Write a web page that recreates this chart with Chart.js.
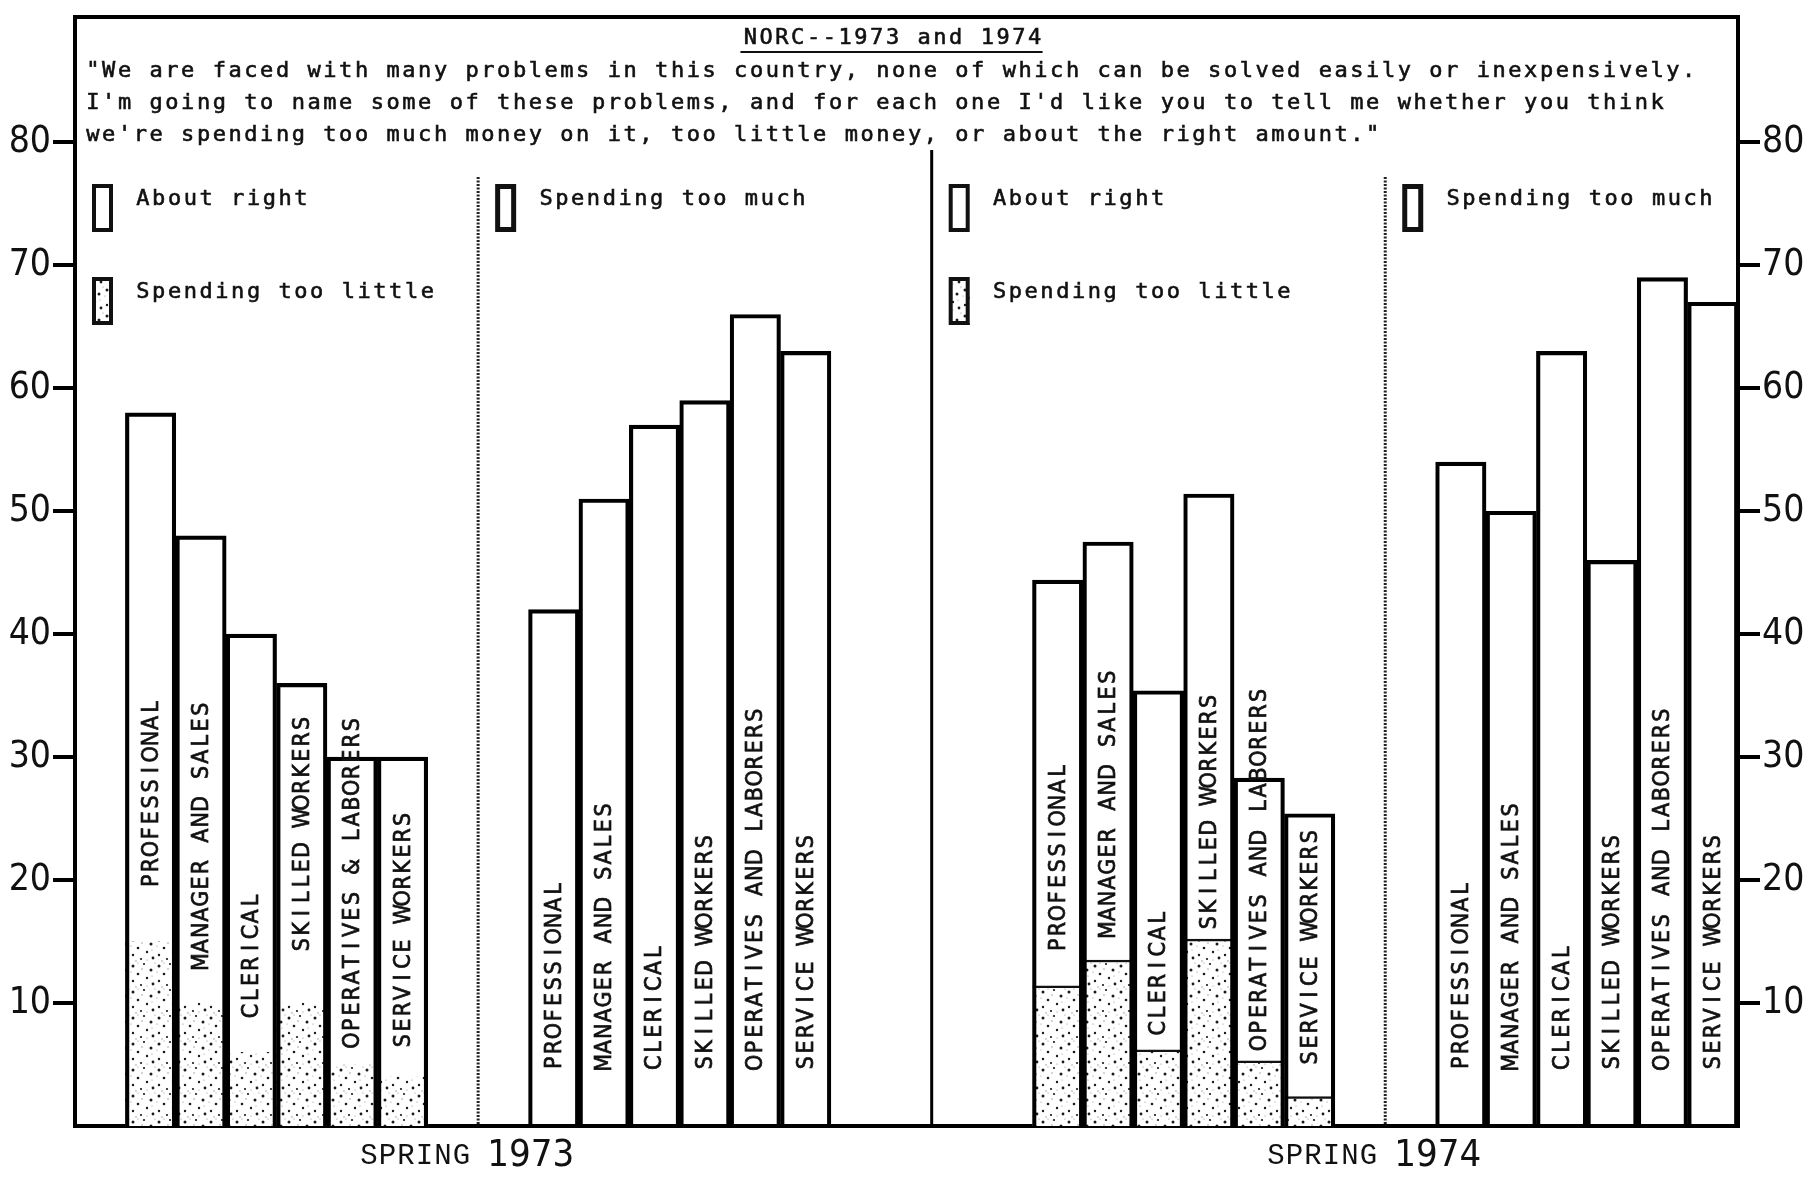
<!DOCTYPE html>
<html>
<head>
<meta charset="utf-8">
<script src="https://cdn.jsdelivr.net/npm/chart.js@4.4.1/dist/chart.umd.min.js"></script>
<style>
  html, body { margin: 0; padding: 0; background: #fff; }
  canvas { display: block; }
</style>
</head>
<body>
<canvas id="chart" width="1805" height="1177" style="width:1805px;height:1177px"></canvas>
<script>
// Occupation groups written inside the bars
const occupations1973AboutRight = ['PROFESSIONAL', 'MANAGER AND SALES', 'CLERICAL', 'SKILLED WORKERS', 'OPERATIVES & LABORERS', 'SERVICE WORKERS'];
const occupations = ['PROFESSIONAL', 'MANAGER AND SALES', 'CLERICAL', 'SKILLED WORKERS', 'OPERATIVES AND LABORERS', 'SERVICE WORKERS'];

// Percent of respondents, spring 1973
const aboutRight1973 = [58, 48, 40, 36, 30, 30];
const tooLittle1973 = [15, 10, 6, 10, 5, 4];
const tooMuch1973 = [42, 51, 57, 59, 66, 63];

// Percent of respondents, spring 1974
const aboutRight1974 = [44.4, 47.5, 35.4, 51.4, 28.3, 25.4];
const tooLittle1974 = [11.4, 13.5, 6.2, 15.2, 5.3, 2.4];
const tooMuch1974 = [54, 50, 63, 46, 69, 67];

// Axis ticks (both sides)
const yTickValues = [10, 20, 30, 40, 50, 60, 70, 80];

// Texts
const titleText = 'NORC--1973 and 1974';
const questionLines = [
  '"We are faced with many problems in this country, none of which can be solved easily or inexpensively.',
  "I'm going to name some of these problems, and for each one I'd like you to tell me whether you think",
  "we're spending too much money on it, too little money, or about the right amount.\""
];
const seriesNames = { aboutRight: 'About right', tooLittle: 'Spending too little', tooMuch: 'Spending too much' };
const seasonLabels = [['SPRING', '1973'], ['SPRING', '1974']];

// ---- layout of the category slots -------------------------------------
// empty slots ahead of each panel; the panel separator sits mid-gap
const panelGapSlots = [1, 2, 4, 2];
const panels = [
  { names: occupations1973AboutRight, kind: 'aboutRight', values: aboutRight1973, little: tooLittle1973, legend: ['aboutRight', 'tooLittle'] },
  { names: occupations, kind: 'tooMuch', values: tooMuch1973, legend: ['tooMuch'] },
  { names: occupations, kind: 'aboutRight', values: aboutRight1974, little: tooLittle1974, legend: ['aboutRight', 'tooLittle'] },
  { names: occupations, kind: 'tooMuch', values: tooMuch1974, legend: ['tooMuch'] }
];
// where the rotated names start inside each bar (axis units)
const nameBase = [
  [19.3, 12.7, 8.7, 14.1, 6.3, 6.3],
  [4.5, 4.5, 4.5, 4.5, 4.5, 4.5],
  [14.1, 15.3, 7.3, 15.9, 6.1, 4.9],
  [4.5, 4.5, 4.5, 4.5, 4.5, 4.5]
];

const slotLabels = [], aboutData = [], muchData = [], littleData = [];
const panelSlots = [], separators = [];
panels.forEach((p, i) => {
  for (let g = 0; g < panelGapSlots[i]; g++) {
    slotLabels.push(''); aboutData.push(null); muchData.push(null); littleData.push(null);
  }
  if (i > 0) separators.push(slotLabels.length - panelGapSlots[i] / 2 - 0.5);
  const first = slotLabels.length;
  p.names.forEach((n, k) => {
    slotLabels.push(n);
    aboutData.push(p.kind === 'aboutRight' ? p.values[k] : null);
    muchData.push(p.kind === 'tooMuch' ? p.values[k] : null);
    littleData.push(p.little ? p.little[k] : null);
  });
  panelSlots.push(first);
});

// ---- stipple fill for "spending too little" ------------------------------
const canvas = document.getElementById('chart');
const mainCtx = canvas.getContext('2d');
function makeStipple() {
  const t = document.createElement('canvas');
  t.width = 26; t.height = 26;
  const c = t.getContext('2d');
  c.fillStyle = '#fff'; c.fillRect(0, 0, 26, 26);
  const dots = [[3,4,1.5],[14,2,1.1],[21,8,1.5],[8,12,1.3],[17,16,1.2],[3,19,1.2],[23,22,1.4],[11,23,1.1],[12,7,0.7],[6,25,0.7],[22,14,0.6],[25,1,0.6],[1,10,0.6],[17,24,0.6],[8,1,0.6]];
  dots.forEach(([dx, dy, r]) => {
    c.fillStyle = r > 0.9 ? '#1a1a1a' : '#8a8a8a';
    c.beginPath(); c.arc(dx, dy, r, 0, Math.PI * 2); c.fill();
  });
  return mainCtx.createPattern(t, 'repeat');
}
const stipple = makeStipple();

// ---- fonts -----------------------------------------------------------------
const typewriter = '"DejaVu Sans Mono", "Liberation Mono", monospace';
const narrow = '"Liberation Sans Narrow", "DejaVu Sans Condensed", "DejaVu Sans", sans-serif';
const barFont = '"DejaVu Sans Condensed", "DejaVu Sans", sans-serif';

// fixed-pitch text, optionally thickened a little with a stroke
function monoText(ctx, text, x, y, pitch, weight) {
  ctx.textAlign = 'center';
  for (let i = 0; i < text.length; i++) {
    const cx = x + i * pitch + pitch / 2;
    ctx.fillText(text[i], cx, y);
    if (weight) { ctx.lineWidth = weight; ctx.strokeText(text[i], cx, y); }
  }
}

const decorations = {
  id: 'decorations',
  afterDraw(chart) {
    const { ctx, chartArea: a, scales: { x, y } } = chart;
    const pitch = 15.8;
    ctx.save();
    ctx.fillStyle = '#111';
    ctx.strokeStyle = '#000';

    // top edge of the frame
    ctx.lineWidth = 4;
    ctx.beginPath(); ctx.moveTo(a.left - 2, a.top); ctx.lineTo(a.right + 2, a.top); ctx.stroke();

    // panel separators: dotted, solid, dotted
    const sepX = separators.map(v => x.getPixelForValue(v));
    sepX.forEach((sx, i) => {
      ctx.beginPath();
      if (i === 1) { ctx.setLineDash([]); ctx.lineWidth = 3; ctx.moveTo(sx, a.top + 133); }
      else { ctx.setLineDash([2, 1.5]); ctx.lineWidth = 3; ctx.moveTo(sx, a.top + 160); }
      ctx.lineTo(sx, a.bottom);
      ctx.strokeStyle = i === 1 ? '#000' : '#222';
      ctx.stroke();
    });
    ctx.setLineDash([]);
    ctx.strokeStyle = '#111';

    // heading and question
    ctx.font = '22px ' + typewriter;
    ctx.textBaseline = 'middle';
    const titleW = titleText.length * pitch;
    const titleX = (a.left + a.right) / 2 - 14 - titleW / 2;
    monoText(ctx, titleText, titleX, a.top + 21, pitch, 0.6);
    ctx.lineWidth = 2;
    ctx.beginPath(); ctx.moveTo(titleX - 2, a.top + 35); ctx.lineTo(titleX + titleW, a.top + 35); ctx.stroke();
    questionLines.forEach((line, i) => monoText(ctx, line, a.left + 10, a.top + 54 + i * 32, pitch, 0.6));

    // per-panel keys
    const panelLeft = [a.left, ...sepX];
    panels.forEach((p, i) => {
      p.legend.forEach((key, r) => {
        const cy = a.top + 182 + r * 93;
        const bx = panelLeft[i] + 17, bw = 21, bh = 48, by = cy - 15;
        ctx.fillStyle = key === 'tooLittle' ? stipple : '#fff';
        ctx.fillRect(bx, by, bw, bh);
        const lw = key === 'tooMuch' ? 5 : 4;
        ctx.lineWidth = lw;
        ctx.strokeStyle = '#111';
        ctx.strokeRect(bx + lw / 2, by + lw / 2, bw - lw, bh - lw);
        ctx.fillStyle = '#111';
        ctx.font = '22px ' + typewriter;
        monoText(ctx, seriesNames[key], panelLeft[i] + 60, cy, pitch, 0.6);
      });
    });

    // occupation names, rotated, inside the bars
    ctx.font = '23px ' + barFont;
    ctx.fillStyle = '#111';
    ctx.strokeStyle = '#111';
    ctx.textBaseline = 'middle';
    panels.forEach((p, i) => {
      p.names.forEach((name, k) => {
        const slot = panelSlots[i] + k;
        const cx = x.getPixelForValue(slot);
        const cy = y.getPixelForValue(nameBase[i][k]);
        ctx.save();
        ctx.translate(cx, cy);
        ctx.rotate(-Math.PI / 2);
        monoText(ctx, name, 0, 1, pitch, 0.7);
        ctx.restore();
      });
    });

    // season captions under the baseline, straddling the dotted separators
    [sepX[0], sepX[2]].forEach((sx, i) => {
      const [word, year] = seasonLabels[i];
      ctx.textBaseline = 'alphabetic';
      ctx.font = '29px "Liberation Mono", monospace';
      ctx.textAlign = 'right';
      ctx.fillStyle = '#111';
      let cx = sx - 8;
      for (let c = word.length - 1; c >= 0; c--) { ctx.fillText(word[c], cx, a.bottom + 38); cx -= 18.5; }
      ctx.font = '38px ' + narrow;
      ctx.textAlign = 'left';
      ctx.fillText(year, sx + 9, a.bottom + 40);
    });
    ctx.restore();
  }
};

const yAxis = (position, width) => ({
  type: 'linear',
  position,
  min: 0,
  max: 90.2,
  afterBuildTicks: s => { s.ticks = yTickValues.map(v => ({ value: v })); },
  afterFit: s => { s.width = width; s.paddingTop = 0; s.paddingBottom = 0; },
  border: { display: true, color: '#000', width: 4 },
  grid: { display: true, drawOnChartArea: false, drawTicks: true, tickLength: 22, tickWidth: 4, tickColor: '#000', lineWidth: 4, color: '#000' },
  ticks: { color: '#111', padding: 2, font: { family: narrow, size: 37 } }
});

new Chart(mainCtx, {
  type: 'bar',
  data: {
    labels: slotLabels,
    datasets: [
      {
        label: seriesNames.aboutRight, data: aboutData, grouped: false, order: 0,
        backgroundColor: 'rgba(255,255,255,0)', borderColor: '#000', borderWidth: 3.5,
        barPercentage: 1, categoryPercentage: 1, borderSkipped: 'start'
      },
      {
        label: seriesNames.tooMuch, data: muchData, grouped: false, order: 1,
        backgroundColor: 'rgba(255,255,255,0)', borderColor: '#000', borderWidth: 3.5,
        barPercentage: 1, categoryPercentage: 1, borderSkipped: 'start'
      },
      {
        label: seriesNames.tooLittle, data: littleData, grouped: false, order: 2,
        backgroundColor: stipple, borderColor: '#111',
        borderWidth: c => c.dataIndex > 16 ? { top: 2.5, left: 0, right: 0, bottom: 0 } : 0,
        barPercentage: 1, categoryPercentage: 1, borderSkipped: 'start'
      }
    ]
  },
  options: {
    responsive: false,
    devicePixelRatio: 1,
    animation: false,
    events: [],
    layout: { autoPadding: false, padding: { top: 17, left: 0, right: 0, bottom: 0 } },
    plugins: { legend: { display: false }, tooltip: { enabled: false }, title: { display: false } },
    scales: {
      x: {
        type: 'category', offset: true,
        afterFit: s => { s.height = 51; s.paddingLeft = 0; s.paddingRight = 0; },
        grid: { display: false },
        ticks: { display: false },
        border: { display: true, color: '#000', width: 4 }
      },
      y: yAxis('left', 75),
      y2: yAxis('right', 67)
    }
  },
  plugins: [decorations]
});
</script>
</body>
</html>
